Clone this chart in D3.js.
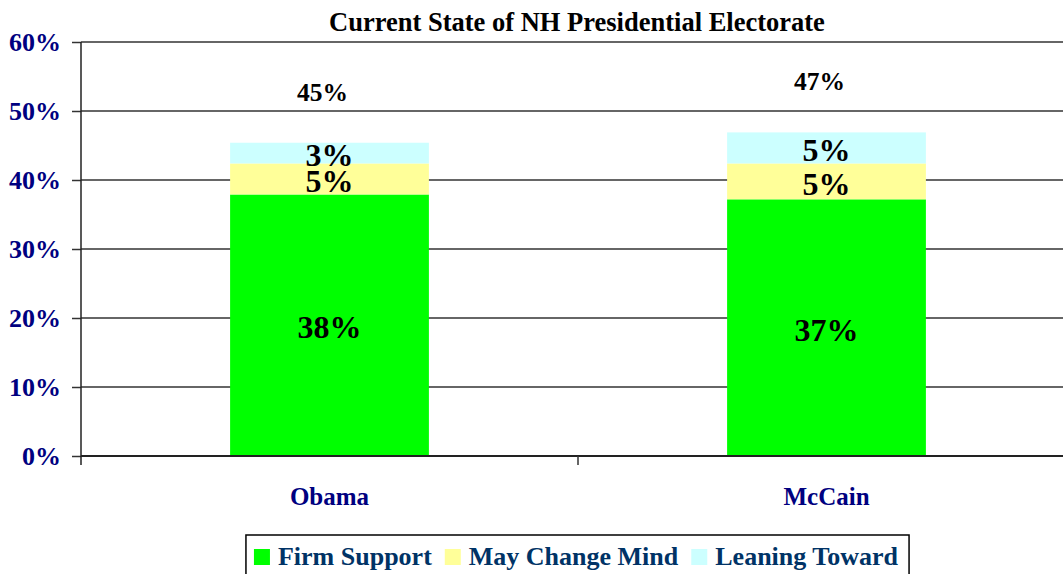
<!DOCTYPE html>
<html>
<head>
<meta charset="utf-8">
<script src="https://cdn.jsdelivr.net/npm/d3@7"></script>
<style>
  body { margin: 0; background: #fff; }
  text { font-family: "Liberation Serif", "Times New Roman", serif; font-weight: bold; }
</style>
</head>
<body>
<div id="chart"></div>
<script>
// data (percent of electorate)
var candidates = ["Obama", "McCain"];
var firmSupport = [37.9, 37.2];
var mayChange = [4.5, 5.2];
var leaning = [3.0, 4.5];
var seriesNames = ["Firm Support", "May Change Mind", "Leaning Toward"];
var seriesColors = ["#00ff00", "#ffff99", "#ccffff"];
var yTicks = [0, 10, 20, 30, 40, 50, 60];

var W = 1063, H = 574;
var margin = {top: 42, left: 81, bottom: 118, right: -12};

var svg = d3.select("#chart").append("svg")
    .attr("width", W).attr("height", H);

svg.append("rect").attr("width", W).attr("height", H).attr("fill", "#fff");

var x = d3.scaleBand()
    .domain(candidates)
    .range([margin.left, W - margin.right])
    .paddingInner(0.6)
    .paddingOuter(0.3);

var y = d3.scaleLinear()
    .domain([0, 60])
    .range([H - margin.bottom, margin.top]);

// title
svg.append("text")
    .attr("x", 577)
    .attr("y", 31)
    .attr("text-anchor", "middle")
    .style("font-size", "26.5px")
    .attr("fill", "#000")
    .text("Current State of NH Presidential Electorate");

// gridlines
svg.append("g").selectAll("line")
    .data(yTicks)
    .enter().append("line")
    .attr("x1", margin.left).attr("x2", W - margin.right)
    .attr("y1", function(d) { return y(d); })
    .attr("y2", function(d) { return y(d); })
    .attr("stroke", "#333")
    .attr("stroke-width", 1.5);

// y axis
var yAxis = svg.append("g")
    .attr("transform", "translate(" + margin.left + ",0)")
    .call(d3.axisLeft(y).tickValues(yTicks).tickSize(9).tickPadding(11)
      .tickFormat(function(d) { return d + "%"; }));
yAxis.select(".domain").remove();
yAxis.selectAll(".tick line").attr("stroke", "#333").attr("stroke-width", 1.5);
yAxis.selectAll(".tick text")
    .style("font-size", "26px")
    .style("font-family", "'Liberation Serif', serif")
    .attr("fill", "#000080");

// stack the three series
var rows = candidates.map(function(c, i) {
  return {name: c, firm: firmSupport[i], may: mayChange[i], lean: leaning[i]};
});
var stack = d3.stack().keys(["firm", "may", "lean"]);
var layers = stack(rows);

var layerG = svg.append("g").selectAll("g")
    .data(layers)
    .enter().append("g")
    .attr("fill", function(d, i) { return seriesColors[i]; });

layerG.selectAll("rect")
    .data(function(d) { return d; })
    .enter().append("rect")
    .attr("x", function(d) { return x(d.data.name); })
    .attr("width", x.bandwidth())
    .attr("y", function(d) { return y(d[1]); })
    .attr("height", function(d) { return y(d[0]) - y(d[1]); });

// segment labels
layerG.selectAll("text")
    .data(function(d) { return d; })
    .enter().append("text")
    .attr("x", function(d) { return x(d.data.name) + x.bandwidth() / 2; })
    .attr("y", function(d) { return y((d[0] + d[1]) / 2); })
    .attr("dy", "0.41em")
    .attr("text-anchor", "middle")
    .attr("fill", "#000")
    .style("font-size", "32px")
    .text(function(d) { return Math.round(d[1] - d[0]) + "%"; });

// totals above the bars
svg.append("g").selectAll("text")
    .data(rows)
    .enter().append("text")
    .attr("x", function(d) { return x(d.name) + x.bandwidth() / 2 - 7; })
    .attr("y", function(d) { return y(d.firm + d.may + d.lean) - 42; })
    .attr("text-anchor", "middle")
    .attr("fill", "#000")
    .style("font-size", "25.5px")
    .text(function(d) { return Math.round(d.firm + d.may + d.lean) + "%"; });

// x axis line, boundary ticks and labels
var y0 = y(0);
svg.append("line")
    .attr("x1", margin.left).attr("x2", W - margin.right)
    .attr("y1", y0).attr("y2", y0)
    .attr("stroke", "#222").attr("stroke-width", 1.8);
svg.append("line")
    .attr("x1", margin.left).attr("x2", margin.left)
    .attr("y1", y(60)).attr("y2", y0 + 9)
    .attr("stroke", "#222").attr("stroke-width", 1.5);
var bounds = [margin.left + x.step(), W - margin.right];
svg.append("g").selectAll("line")
    .data(bounds)
    .enter().append("line")
    .attr("x1", function(d) { return d; }).attr("x2", function(d) { return d; })
    .attr("y1", y0).attr("y2", y0 + 9)
    .attr("stroke", "#333").attr("stroke-width", 1.5);
svg.append("g").selectAll("text")
    .data(candidates)
    .enter().append("text")
    .attr("x", function(d) { return x(d) + x.bandwidth() / 2; })
    .attr("y", y0 + 49)
    .attr("text-anchor", "middle")
    .attr("fill", "#000080")
    .style("font-size", "25px")
    .text(function(d) { return d; });

// legend
var legend = svg.append("g");
var box = legend.append("rect")
    .attr("fill", "#fff").attr("stroke", "#000").attr("stroke-width", 1.5);
var lx = 0;
var items = legend.selectAll("g.item")
    .data(seriesNames)
    .enter().append("g").attr("class", "item");
items.each(function(d, i) {
  var g = d3.select(this);
  g.append("rect")
    .attr("x", lx).attr("y", -16)
    .attr("width", 16).attr("height", 16)
    .attr("fill", seriesColors[i]);
  var t = g.append("text")
    .attr("x", lx + 24).attr("y", 0)
    .attr("fill", "#003366")
    .style("font-size", "26px")
    .text(d);
  lx = lx + 24 + t.node().getComputedTextLength() + 13;
});
var contentW = lx - 13;
var legendCx = 576;
var lx0 = legendCx - contentW / 2;
items.attr("transform", "translate(" + lx0 + ",565)");
box.attr("x", lx0 - 8).attr("y", 535)
   .attr("width", contentW + 19).attr("height", 60);
</script>
</body>
</html>
